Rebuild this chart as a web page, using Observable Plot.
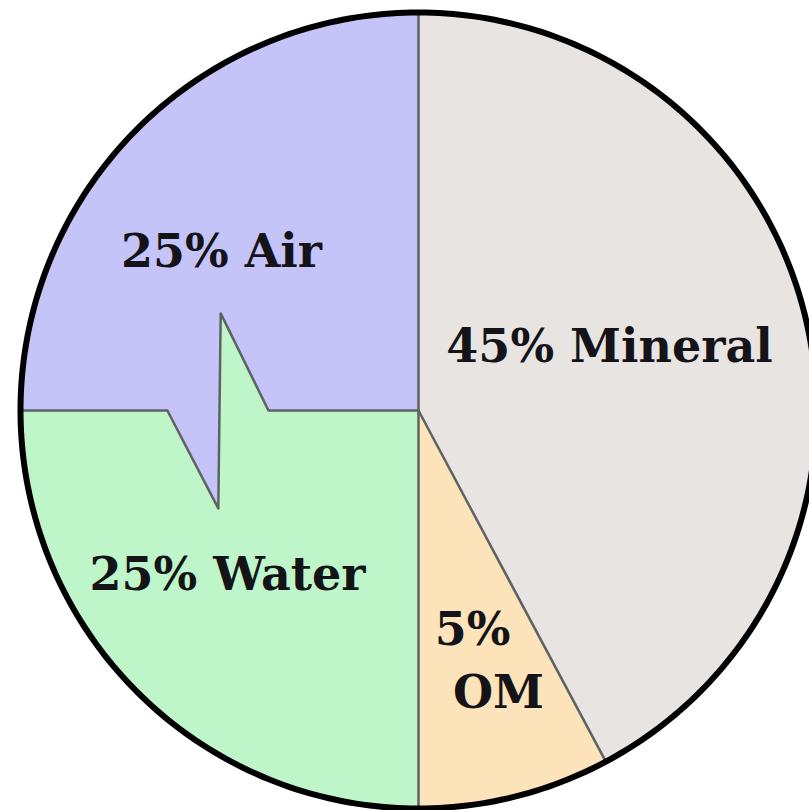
<!DOCTYPE html>
<html>
<head>
<meta charset="utf-8">
<script src="https://cdn.jsdelivr.net/npm/d3@7"></script>
<script src="https://cdn.jsdelivr.net/npm/@observablehq/plot@0.6"></script>
<style>
  html, body { margin: 0; padding: 0; background: #ffffff; }
  #chart svg { overflow: hidden; display: block; }
</style>
</head>
<body>
<div id="chart"></div>
<script>
// ---- data ----
const components = ["Mineral", "OM", "Water", "Air"];
// angular share of the circle as drawn (percent)
const drawnShare = [42.2, 7.8, 25, 25];
const sliceColors = ["#e7e4e2", "#fde3b9", "#bff6c9", "#c4c4f9"];

// labels (text as printed), positions in unit-radius coordinates
const labelText = ["25% Air", "45% Mineral", "25% Water", "5%", "OM"];
const labelX = [-0.495, 0.480, -0.480, 0.136, 0.201];
const labelY = [0.397, 0.158, -0.415, -0.553, -0.711];

// zig-zag boundary between Air and Water, from the rim to the centre (unit radius)
const dividerX = [-1, -0.631, -0.503, -0.497, -0.377, 0];
const dividerY = [0, 0, -0.246, 0.244, 0, 0];

// ---- geometry built from the data ----
const toXY = deg => [Math.sin(deg * Math.PI / 180), Math.cos(deg * Math.PI / 180)];
const arcPts = (a0, a1) => {
  const n = Math.max(2, Math.ceil(Math.abs(a1 - a0) / 1));
  return d3.range(n + 1).map(i => toXY(a0 + (a1 - a0) * i / n));
};
const total = d3.sum(drawnShare);
const cum = [0, ...d3.cumsum(drawnShare)].map(v => v / total * 360);
const divider = dividerX.map((x, i) => [x, dividerY[i]]);

const polys = [];
const push = (name, pts) => pts.forEach(([x, y]) => polys.push({ name, x, y }));
// Mineral
push(components[0], [[0, 0], ...arcPts(cum[0], cum[1])]);
// OM
push(components[1], [[0, 0], ...arcPts(cum[1], cum[2])]);
// Water: centre -> arc -> zig-zag back to centre
push(components[2], [[0, 0], ...arcPts(cum[2], cum[3]), ...divider.slice(1)]);
// Air: centre -> zig-zag to rim -> arc -> centre
push(components[3], [...divider.slice().reverse(), ...arcPts(cum[3], cum[4]).slice(1), [0, 0]]);

// internal boundary lines
const edges = [];
const pushEdge = (id, pts) => pts.forEach(([x, y]) => edges.push({ id, x, y }));
pushEdge("top", [[0, 0], toXY(cum[0])]);
pushEdge("om1", [[0, 0], toXY(cum[1])]);
pushEdge("bottom", [[0, 0], toXY(cum[2])]);
pushEdge("zig", divider);

const rim = arcPts(0, 360).map(([x, y]) => ({ x, y }));
const labels = labelText.map((t, i) => ({ t, x: labelX[i], y: labelY[i] }));

const cx = 418, cy = 410, R = 398;
const chart = Plot.plot({
  width: 809,
  height: 810,
  margin: 0,
  x: { domain: [-1, 1], range: [cx - R, cx + R], axis: null },
  y: { domain: [-1, 1], range: [cy + R, cy - R], axis: null },
  color: { domain: components, range: sliceColors },
  marks: [
    Plot.line(polys, { x: "x", y: "y", z: "name", fill: "name", stroke: "none" }),
    Plot.line(edges, { x: "x", y: "y", z: "id", stroke: "#5e6260", strokeWidth: 2.5 }),
    Plot.line(rim, { x: "x", y: "y", stroke: "#000", strokeWidth: 6 }),
    Plot.text(labels, {
      x: "x", y: "y", text: "t",
      fontFamily: "DejaVu Serif", fontWeight: "bold", fontSize: 46,
      fill: "#141418", textAnchor: "middle", lineAnchor: "middle"
    })
  ]
});
document.getElementById("chart").appendChild(chart);
</script>
</body>
</html>
